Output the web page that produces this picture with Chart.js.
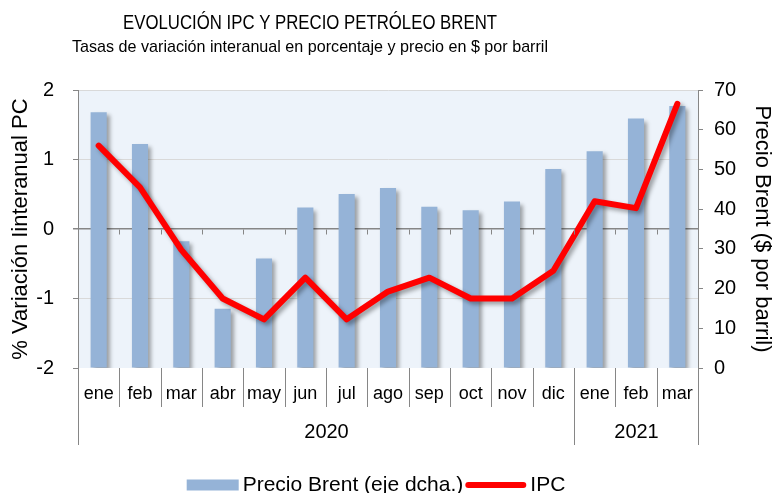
<!DOCTYPE html>
<html>
<head>
<meta charset="utf-8">
<script src="https://cdn.jsdelivr.net/npm/chart.js@4.4.1/dist/chart.umd.min.js"></script>
<style>
  html, body { margin: 0; padding: 0; background: #fff; }
  #wrap { width: 773px; height: 493px; }
</style>
</head>
<body>
<div id="wrap"><canvas id="ipcChart"></canvas></div>
<script>
// datos
const months = ["ene", "feb", "mar", "abr", "may", "jun", "jul", "ago", "sep", "oct", "nov", "dic", "ene", "feb", "mar"];
const years = ["2020", "2021"];
const monthsPerYear = [12, 3];
const seriesNames = ["Precio Brent (eje dcha.)", "IPC"];
const brent = [64.4, 56.4, 31.9, 14.9, 27.6, 40.4, 43.8, 45.3, 40.6, 39.7, 41.9, 50.1, 54.6, 62.8, 66.0];
const ipc = [1.2, 0.6, -0.3, -1.0, -1.3, -0.7, -1.3, -0.9, -0.7, -1.0, -1.0, -0.6, 0.4, 0.3, 1.8];
const leftTicks = [-2, -1, 0, 1, 2];
const rightTicks = [0, 10, 20, 30, 40, 50, 60, 70];

const FONT = "'Liberation Sans', Arial, sans-serif";
const BAR_COLOR = "#95b3d7";
const LINE_COLOR = "#ff0000";
Chart.defaults.font.family = FONT;
Chart.defaults.color = "#000";

//Fondo, sombras, titulos, separadores, años y leyenda
const decor = {
  id: "decor",
  beforeDraw(chart) {
    const { ctx, chartArea: a } = chart;
    ctx.save();
    ctx.fillStyle = "#edf3fa";
    ctx.fillRect(a.left, a.top, a.right - a.left, a.bottom - a.top);
    ctx.restore();
  },
  beforeDatasetDraw(chart) {
    const ctx = chart.ctx;
    ctx.save();
    ctx.shadowColor = "rgba(0,0,0,0.35)";
    ctx.shadowBlur = 4;
    ctx.shadowOffsetX = 3;
    ctx.shadowOffsetY = 3;
  },
  afterDatasetDraw(chart) {
    chart.ctx.restore();
  },
  afterDraw(chart) {
    const { ctx, chartArea: a, scales } = chart;
    const x = scales.x, y = scales.y;
    const y0 = Math.round(y.getPixelForValue(0)) + 0.5;
    ctx.save();

    // titulos
    ctx.fillStyle = "#000";
    ctx.textAlign = "center";
    ctx.textBaseline = "middle";
    ctx.font = "21px " + FONT;
    ctx.fillText("EVOLUCIÓN IPC Y PRECIO PETRÓLEO BRENT", 310, 23, 374);
    ctx.font = "17px " + FONT;
    ctx.fillText("Tasas de variación interanual en porcentaje y precio en $ por barril", 310, 47, 476);

    // marcas en el eje cero y separadores de meses
    ctx.strokeStyle = "#868686";
    ctx.lineWidth = 1;
    for (let i = 0; i <= months.length; i++) {
      const px = Math.round(x.getPixelForValue(i - 0.5)) + 0.5;
      ctx.beginPath();
      ctx.moveTo(px, y0);
      ctx.lineTo(px, y0 + 5);
      ctx.moveTo(px, a.bottom);
      ctx.lineTo(px, a.bottom + 39);
      ctx.stroke();
    }

    // años
    ctx.font = "20px " + FONT;
    let start = 0;
    years.forEach((yr, k) => {
      const end = start + monthsPerYear[k];
      const l = Math.round(x.getPixelForValue(start - 0.5)) + 0.5;
      const r = Math.round(x.getPixelForValue(end - 0.5)) + 0.5;
      ctx.beginPath();
      ctx.moveTo(l, a.bottom);
      ctx.lineTo(l, a.bottom + 77);
      ctx.moveTo(r, a.bottom);
      ctx.lineTo(r, a.bottom + 77);
      ctx.stroke();
      ctx.fillText(yr, (l + r) / 2, a.bottom + 64);
      start = end;
    });

    // leyenda
    const ly = 485;
    ctx.font = "21px " + FONT;
    ctx.textAlign = "left";
    const w1 = ctx.measureText(seriesNames[0]).width;
    const w2 = ctx.measureText(seriesNames[1]).width;
    const total = 52 + 4 + w1 + 2 + 61 + 4 + w2;
    let lx = 376 - total / 2;
    ctx.fillStyle = BAR_COLOR;
    ctx.fillRect(lx, ly - 5.5, 52, 11);
    lx += 56;
    ctx.fillStyle = "#000";
    ctx.fillText(seriesNames[0], lx, ly);
    lx += w1 + 2;
    ctx.strokeStyle = LINE_COLOR;
    ctx.lineWidth = 6;
    ctx.lineCap = "round";
    ctx.beginPath();
    ctx.moveTo(lx + 3, ly);
    ctx.lineTo(lx + 58, ly);
    ctx.stroke();
    lx += 65;
    ctx.fillText(seriesNames[1], lx, ly);

    ctx.restore();
  }
};

const ctx = document.getElementById("ipcChart").getContext("2d");
const ipcChart = new Chart(ctx, {
  type: "bar",
  data: {
    labels: months,
    datasets: [{
      label: seriesNames[0],
      data: brent,
      yAxisID: "y1",
      backgroundColor: BAR_COLOR,
      barPercentage: 0.39,
      categoryPercentage: 1,
      order: 1
    }, {
      type: "line",
      label: seriesNames[1],
      data: ipc,
      yAxisID: "y",
      borderColor: LINE_COLOR,
      backgroundColor: LINE_COLOR,
      borderWidth: 6,
      pointRadius: 0,
      tension: 0,
      borderJoinStyle: "round",
      borderCapStyle: "round",
      order: 0
    }]
  },
  options: {
    responsive: true,
    maintainAspectRatio: false,
    animation: false,
    layout: { padding: { left: 0, right: 0, top: 90, bottom: 0 } },
    plugins: {
      legend: { display: false },
      tooltip: { enabled: false }
    },
    scales: {
      x: {
        offset: true,
        grid: { display: false },
        border: { display: false },
        ticks: { autoSkip: false, maxRotation: 0, padding: 7, font: { size: 18 } },
        afterFit(scale) { scale.height = 125; }
      },
      y: {
        position: "left",
        min: leftTicks[0],
        max: leftTicks[leftTicks.length - 1],
        ticks: { stepSize: 1, padding: 19, font: { size: 20 } },
        grid: {
          color: (c) => c.tick.value === 0 ? "#868686" : (c.tick.value === -2 ? "rgba(0,0,0,0)" : "#d9d9d9"),
          tickColor: "#868686",
          tickLength: 5,
          lineWidth: (c) => c.tick.value === 0 ? 1.5 : 1
        },
        border: { display: true, color: "#868686" },
        title: {
          display: true,
          text: "% Variación Iinteranual PC",
          font: { size: 22, lineHeight: 1 },
          padding: { top: 10, bottom: 0 }
        },
        afterFit(scale) { scale.width = 78; }
      },
      y1: {
        position: "right",
        min: rightTicks[0],
        max: rightTicks[rightTicks.length - 1],
        ticks: { stepSize: 10, padding: 11, font: { size: 20 } },
        grid: { drawOnChartArea: false, tickColor: "#868686", tickLength: 5 },
        border: { display: true, color: "#868686" },
        title: {
          display: true,
          text: "Precio Brent ($ por barril)",
          font: { size: 22, lineHeight: 1 },
          padding: { top: 0, bottom: 0 }
        },
        afterFit(scale) { scale.width = 75; }
      }
    }
  },
  plugins: [decor]
});
</script>
</body>
</html>
